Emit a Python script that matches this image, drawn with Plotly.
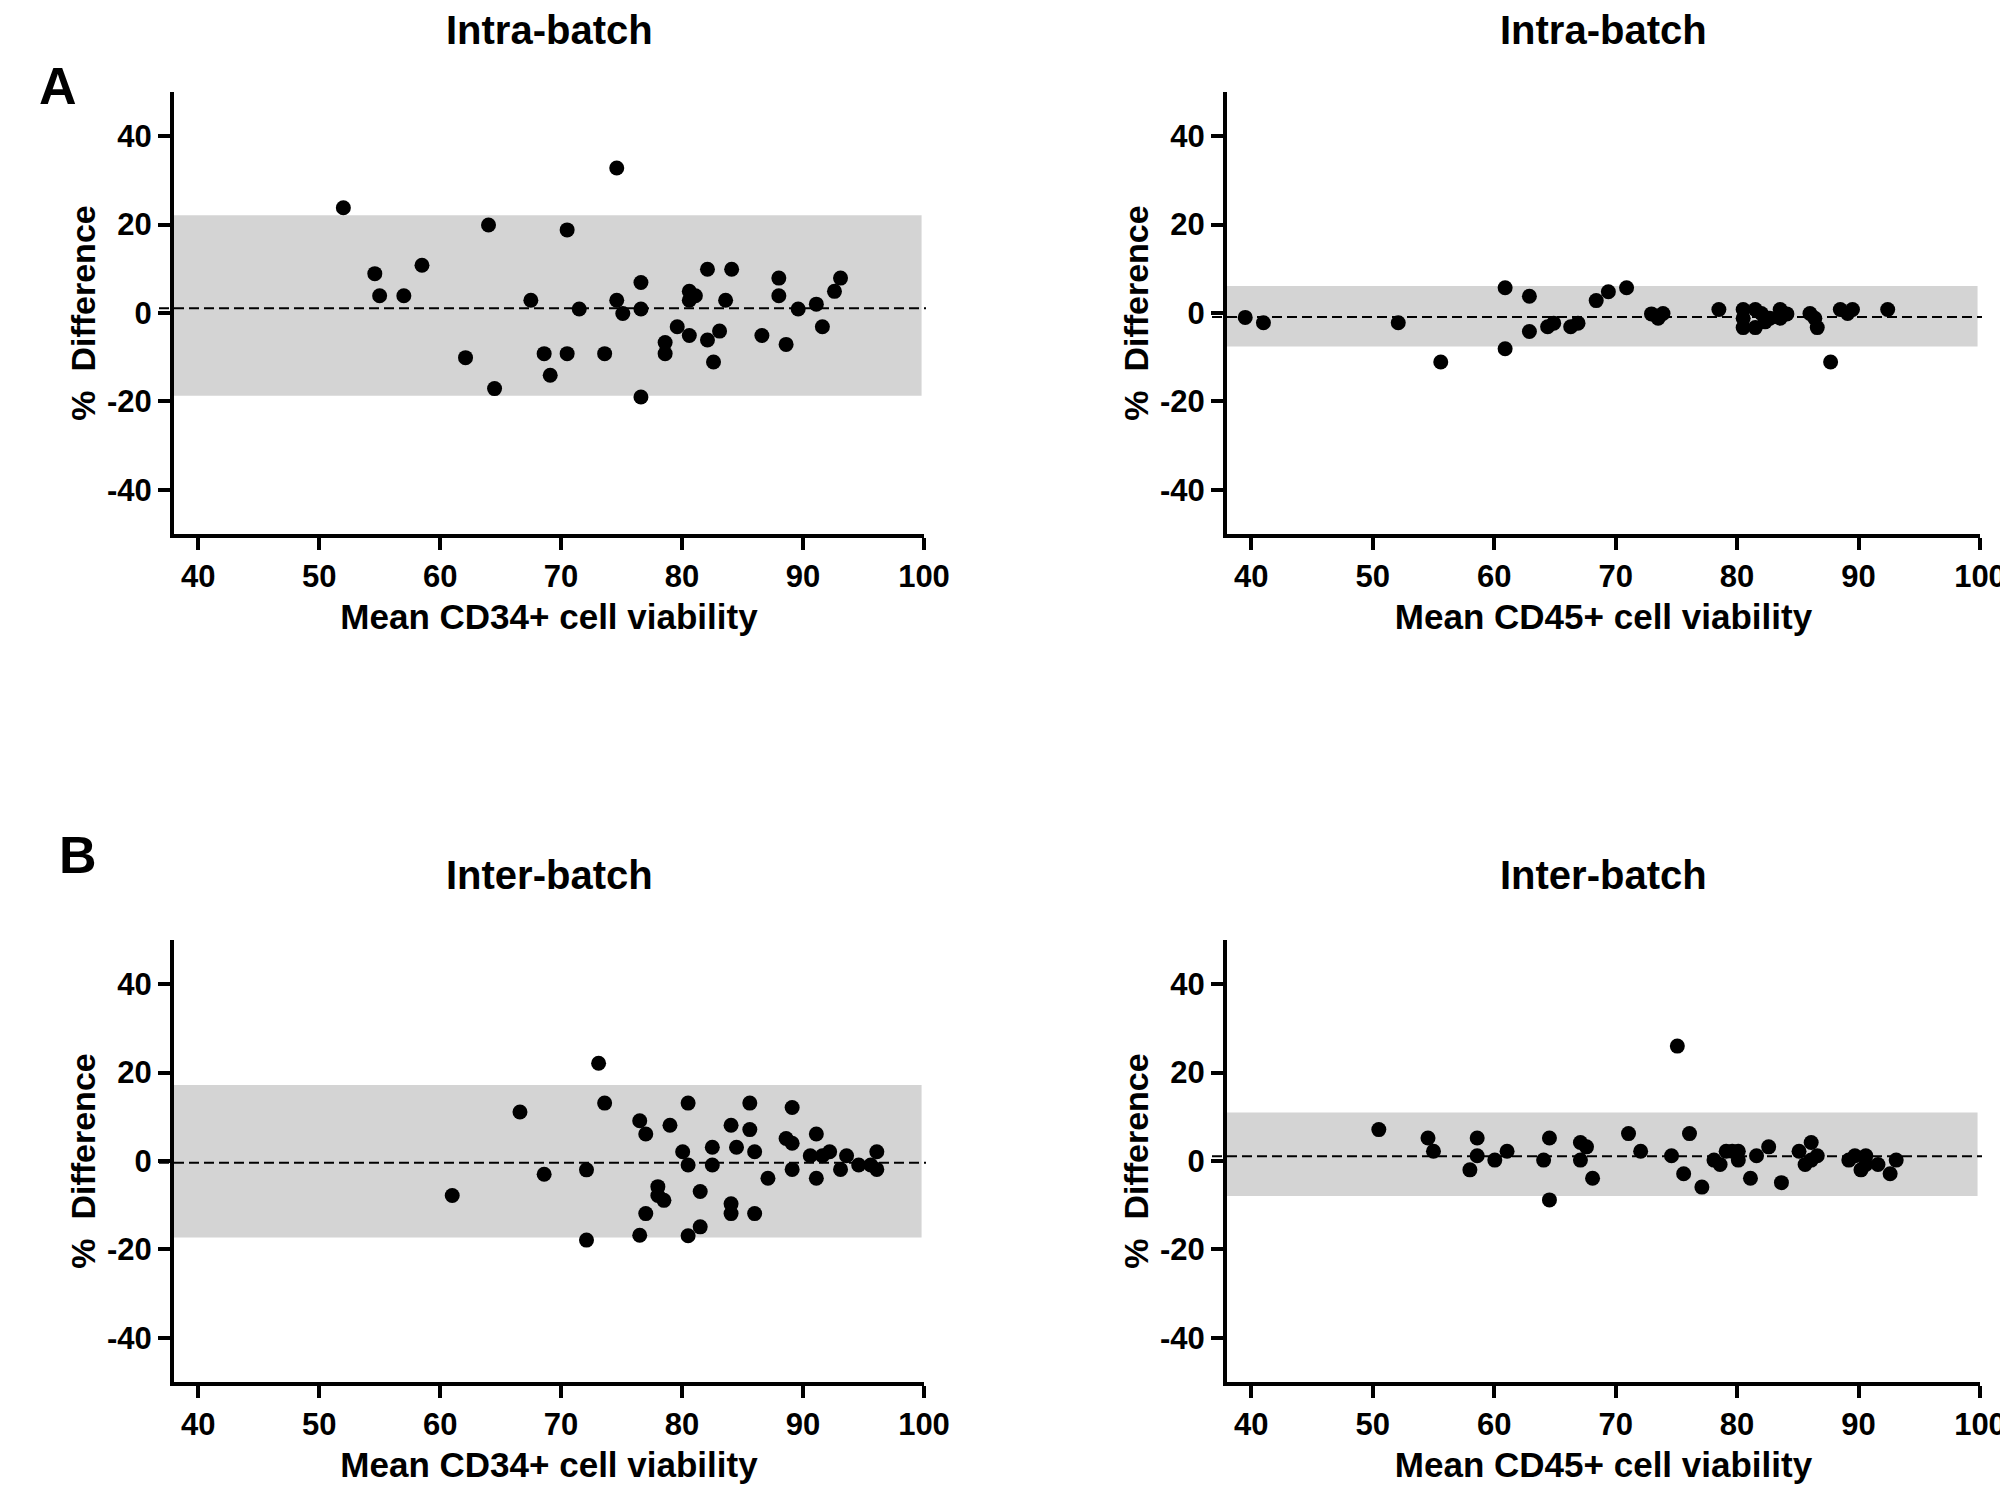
import plotly.graph_objects as go

# ---------------- data ----------------
# Panel A, left: Intra-batch, CD34+
a34_x = [52.0, 54.6, 55.0, 57.0, 58.5, 62.1, 64.0, 64.5, 67.5, 68.6, 69.1, 70.5, 70.5, 71.5, 73.6,
         74.6, 74.6, 75.1, 76.6, 76.6, 76.6, 78.6, 78.6, 79.6, 80.6, 80.6, 80.6, 81.1, 82.1, 82.1,
         82.6, 83.1, 83.6, 84.1, 86.6, 88.0, 88.0, 88.6, 89.6, 91.1, 91.6, 92.6, 93.1]
a34_y = [23.8, 8.9, 3.9, 3.9, 10.8, -10.1, 19.9, -17.1, 2.9, -9.2, -14.1, 18.8, -9.2, 0.9, -9.2,
         32.8, 2.9, -0.1, 6.9, 0.9, -19.0, -6.7, -9.2, -3.1, 4.9, 2.9, -5.1, 3.9, 9.9, -6.1,
         -11.1, -4.1, 2.9, 9.9, -5.1, 7.9, 3.9, -7.1, 0.9, 2.0, -3.1, 4.9, 7.9]
a34_limits = [-18.7, 22.1]
a34_mean = 1.1

# Panel A, right: Intra-batch, CD45+
a45_x = [39.5, 41.0, 52.1, 55.6, 60.9, 60.9, 62.9, 62.9, 64.4, 64.9, 66.3, 66.9, 68.4, 69.4, 70.9,
         72.95, 73.5, 73.9, 78.5, 80.5, 80.5, 80.5, 81.5, 81.5, 82.0, 82.3, 82.7, 83.55, 83.55, 84.1,
         86.0, 86.4, 86.6, 87.7, 88.5, 89.1, 89.5, 92.4]
a45_y = [-1.0, -2.2, -2.2, -11.1, 5.7, -8.1, 3.8, -4.2, -3.1, -2.3, -3.1, -2.3, 2.8, 4.8, 5.7,
         -0.2, -1.2, -0.1, 0.8, 0.8, -1.2, -3.3, 0.8, -3.3, -0.1, -2.0, -1.2, 0.8, -1.2, -0.2,
         -0.1, -1.2, -3.3, -11.1, 0.8, -0.1, 0.8, 0.8]
a45_limits = [-7.6, 6.1]
a45_mean = -0.9

# Panel B, left: Inter-batch, CD34+
b34_x = [61.0, 66.6, 68.6, 72.1, 72.1, 73.1, 73.6, 76.5, 77.0, 79.0, 80.5, 80.05, 80.5, 82.5, 82.5,
         84.05, 84.5, 85.6, 85.6, 86.0, 87.1, 89.1, 88.6, 89.1, 89.1, 91.1, 90.6, 91.1, 91.6, 92.2,
         93.1, 93.6, 94.6, 95.6, 96.1, 96.1, 78.0, 78.0, 78.5, 77.0, 76.5, 81.5, 80.5, 81.5, 84.05,
         84.05, 86.0]
b34_y = [-7.8, 11.1, -3.0, -2.0, -17.9, 22.1, 13.1, 9.1, 6.1, 8.1, 13.1, 2.1, -0.9, 3.1, -0.9,
         8.1, 3.1, 13.1, 7.1, 2.1, -3.9, 12.1, 5.1, 4.0, -1.9, 6.1, 1.2, -3.9, 1.2, 2.1,
         -1.9, 1.2, -0.9, -0.9, 2.1, -1.9, -5.8, -7.8, -8.9, -11.9, -16.8, -6.9, -16.9, -14.9, -9.7,
         -11.9, -11.9]
b34_limits = [-17.3, 17.2]
b34_mean = -0.4

# Panel B, right: Inter-batch, CD45+
b45_x = [50.5, 54.55, 55.0, 58.0, 58.6, 58.6, 60.05, 61.06, 64.07, 64.55, 64.55, 67.1, 67.1, 67.6,
         68.1, 71.06, 72.06, 74.6, 75.08, 75.6, 76.08, 77.1, 78.1, 78.6, 79.1, 79.6, 80.1, 80.1,
         81.1, 81.6, 82.6, 83.65, 85.1, 85.6, 86.1, 86.1, 86.6, 89.2, 89.7, 90.2, 90.6, 90.6, 91.6,
         92.6, 93.1]
b45_y = [7.1, 5.2, 2.2, -2.0, 5.2, 1.2, 0.2, 2.2, 0.2, 5.2, -8.8, 4.2, 0.2, 3.2,
         -3.9, 6.2, 2.2, 1.2, 26.0, -2.9, 6.2, -5.9, 0.2, -0.8, 2.2, 2.2, 2.2, 0.2,
         -3.9, 1.2, 3.2, -4.9, 2.2, -0.8, 4.2, 0.2, 1.2, 0.2, 1.2, -2.0, 1.2, -0.8, -0.8,
         -2.9, 0.2]
b45_limits = [-7.9, 11.0]
b45_mean = 1.1

x_range = [38, 100]
y_range = [-50, 50]
x_ticks = [40, 50, 60, 70, 80, 90, 100]
y_ticks = [-40, -20, 0, 20, 40]
y_ticklabels = ["-40", "-20", "0", "20", "40"]
band_end = 99.8

panel_titles = ["Intra-batch", "Intra-batch", "Inter-batch", "Inter-batch"]
x_titles = ["Mean CD34+ cell viability", "Mean CD45+ cell viability",
            "Mean CD34+ cell viability", "Mean CD45+ cell viability"]
y_title = "%\u00a0 Difference"
panel_letters = ["A", "B"]

# ---------------- figure ----------------
# the page body has an 8px margin, so the paper is offset by 8px on screen
OFF = 8
W, H = 2000, 1482
FONT = "Arial, Liberation Sans, Helvetica, sans-serif"


def px(sx):
    return (sx - OFF) / W


def py(sy):
    return 1 - (sy - OFF) / H


x_domains = [[px(174), px(924)], [px(1227), px(1980)]]
y_domains = [[py(534), py(92)], [py(1382), py(940)]]
title_y = [30, 875]

panels = [
    (a34_x, a34_y, a34_limits, a34_mean, 0, 0),
    (a45_x, a45_y, a45_limits, a45_mean, 1, 0),
    (b34_x, b34_y, b34_limits, b34_mean, 0, 1),
    (b45_x, b45_y, b45_limits, b45_mean, 1, 1),
]

fig = go.Figure()
shapes = []
annotations = []
layout_axes = {}

for i, (xs, ys, lims, mean, col, row) in enumerate(panels):
    n = i + 1
    xa = "x" if n == 1 else f"x{n}"
    ya = "y" if n == 1 else f"y{n}"
    xd = x_domains[col]
    yd = y_domains[row]
    fig.add_trace(go.Scatter(
        x=xs, y=ys, mode="markers", xaxis=xa, yaxis=ya,
        marker=dict(size=15, color="black", line=dict(width=0)),
        showlegend=False, hoverinfo="x+y"))
    shapes.append(dict(type="rect", xref=xa, yref=ya, x0=x_range[0], x1=band_end,
                       y0=lims[0], y1=lims[1], fillcolor="#d4d4d4",
                       line=dict(width=0), layer="below"))
    # mean line: starts just left of the y axis (through the tick area) as in the original
    shapes.append(dict(type="line", xref="paper", yref=ya, x0=xd[0] - 15 / W, x1=xd[1] + 2 / W,
                       y0=mean, y1=mean, line=dict(color="black", width=2, dash="10px,5px"),
                       layer="above"))
    axis_common = dict(showline=True, linewidth=4, linecolor="black", ticks="outside",
                       ticklen=12, tickwidth=4, tickcolor="black", showgrid=False,
                       zeroline=False, automargin=False,
                       tickfont=dict(family=FONT, size=31, color="black", weight="bold"))
    layout_axes["xaxis" if n == 1 else f"xaxis{n}"] = dict(
        axis_common, domain=xd, anchor=ya, range=x_range, tickvals=x_ticks,
        title=dict(text=x_titles[i], standoff=12,
                   font=dict(family=FONT, size=35, color="black", weight="bold")))
    layout_axes["yaxis" if n == 1 else f"yaxis{n}"] = dict(
        axis_common, domain=yd, anchor=xa, range=y_range, tickvals=y_ticks,
        ticktext=y_ticklabels,
        title=dict(text=y_title, standoff=2,
                   font=dict(family=FONT, size=34, color="black", weight="bold")))
    annotations.append(dict(
        text=panel_titles[i], xref="paper", yref="paper",
        x=(xd[0] + xd[1]) / 2, y=py(title_y[row]),
        xanchor="center", yanchor="middle", showarrow=False,
        font=dict(family=FONT, size=40, color="black", weight="bold")))

annotations.append(dict(text=panel_letters[0], xref="paper", yref="paper",
                        x=px(58), y=py(86), xanchor="center", yanchor="middle",
                        showarrow=False,
                        font=dict(family=FONT, size=52, color="black", weight="bold")))
annotations.append(dict(text=panel_letters[1], xref="paper", yref="paper",
                        x=px(78), y=py(855), xanchor="center", yanchor="middle",
                        showarrow=False,
                        font=dict(family=FONT, size=52, color="black", weight="bold")))

fig.update_layout(
    width=W, height=H, margin=dict(l=0, r=0, t=0, b=0),
    paper_bgcolor="white", plot_bgcolor="white",
    shapes=shapes, annotations=annotations, showlegend=False,
    font=dict(family=FONT, color="black"),
    **layout_axes)

fig.write_html("out.html")
